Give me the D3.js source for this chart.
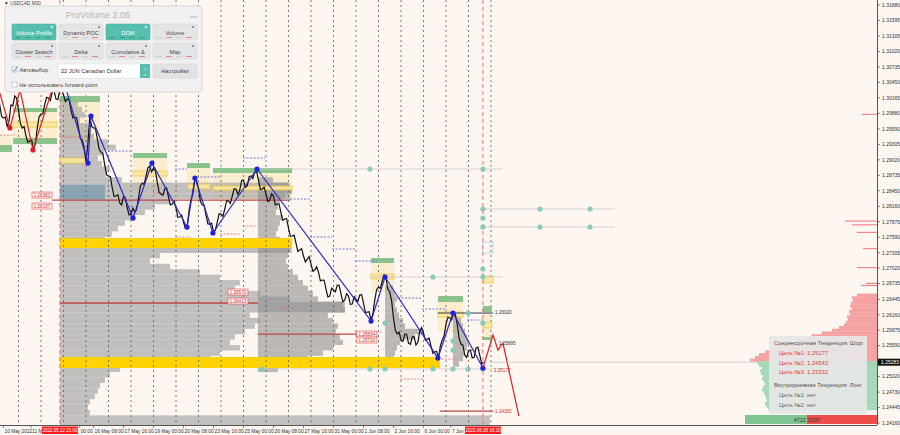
<!DOCTYPE html>
<html><head><meta charset="utf-8">
<script src="https://cdn.jsdelivr.net/npm/d3@7/dist/d3.min.js"></script>
<style>
html,body{margin:0;padding:0;background:#fdf6f1;}
svg{display:block;}
text{font-family:"Liberation Sans","DejaVu Sans",sans-serif;}
</style></head><body>
<svg id="chart" width="900" height="435"></svg>
<script>
// ---------------- DATA ----------------
// x unit = trading day index (0 = 10 May 2022 00:00, 4 = 16 May, 21 = 8 Jun)
const PRICE_TICKS = [1.31880,1.31595,1.31305,1.31020,1.30735,1.30450,1.30165,1.29880,1.29590,1.29305,1.29020,1.28735,1.28450,1.28160,1.27875,1.27590,1.27305,1.27020,1.26735,1.26445,1.26160,1.25875,1.25590,1.25020,1.24730,1.24445,1.24160];
const CURRENT_PRICE = 1.25283;
// labels partly hidden under the red crosshair boxes are kept as they show
const TIME_LABELS = ["10 May 2022","11 M","00:00","16 May 08:00","17 May 16:00","19 May 00:00","20 May 08:00","23 May 16:00","25 May 00:00","26 May 08:00","27 May 16:00","31 May 00:00","1 Jun 08:00","2 Jun 16:00","6 Jun 00:00","7 Jun"];
const TIME_LABEL_DAYS = [0.333,1.56,3.72,4.333,5.667,7.0,8.333,9.667,11.0,12.333,13.667,15.0,16.333,17.667,19.0,20.22];
const DAY_SEPARATORS = [1,2,3,4,5,6,7,8,9,10,11,12,13,14,15,16,17,18,19,20,21,22];
const MARKERS = [{day:2.84,text:"2022.05.12 21:00"},{day:21.64,text:"2022.06.08 16:30"}];

// closes every 4 hours from day 0, and the 2-hour closes in between
const BAR_STEP = 1/6;
const CLOSES = [1.30125,1.30033,1.29793,1.29626,1.30033,1.30199,1.29940,1.29608,1.29460,1.29368,
1.29220,1.29608,1.29866,1.30051,1.30162,1.30273,1.30143,1.30310,1.30217,1.30143,
1.29940,1.29811,1.29608,1.29386,1.28980,1.29811,1.29608,1.29423,1.29165,1.28924,
1.28721,1.28500,1.28352,1.28223,1.28352,1.28130,1.28019,1.28056,1.28315,1.28592,
1.28721,1.28906,1.28869,1.28610,1.28389,1.28481,1.28333,1.28204,1.28130,1.27964,
1.27872,1.27798,1.28278,1.28647,1.28500,1.28186,1.28001,1.27835,1.27687,1.27872,
1.28019,1.28112,1.28260,1.28352,1.28481,1.28463,1.28647,1.28537,1.28721,1.28795,
1.28647,1.28481,1.28389,1.28278,1.28352,1.28204,1.28038,1.27927,1.27761,1.27613,
1.27484,1.27354,1.27244,1.27188,1.27096,1.26985,1.26948,1.26800,1.26634,1.26505,
1.26616,1.26708,1.26542,1.26431,1.26505,1.26357,1.26449,1.26523,1.26376,1.26209,
1.26062,1.26431,1.26671,1.26782,1.26837,1.26579,1.26099,1.25803,1.25692,1.25803,
1.25637,1.25748,1.25600,1.25858,1.25822,1.25711,1.25581,1.25471,1.25360,1.25692,
1.25988,1.26099,1.26191,1.25988,1.25618,1.25415,1.25489,1.25360,1.25544,1.25415,
1.25283];
const MIDS = [1.30160,1.29820,1.29810,1.29750,1.30016,1.30160,1.29694,1.29634,1.29344,1.29384,
1.29314,1.29817,1.29868,1.30176,1.30117,1.30288,1.30136,1.30323,1.30100,1.30131,
1.29795,1.29799,1.29417,1.29253,1.29315,1.29639,1.29605,1.29214,1.29134,1.28742,
1.28710,1.28346,1.28377,1.28187,1.28321,1.28004,1.28127,1.28105,1.28533,1.28566,
1.28873,1.28797,1.28819,1.28420,1.28365,1.28497,1.28188,1.28257,1.27957,1.27998,
1.27755,1.28098,1.28392,1.28634,1.28253,1.28184,1.27838,1.27851,1.27720,1.28026,
1.27976,1.28266,1.28216,1.28487,1.28382,1.28635,1.28512,1.28709,1.28678,1.28801,
1.28474,1.28515,1.28253,1.28395,1.28188,1.28201,1.27903,1.27934,1.27607,1.27629,
1.27329,1.27379,1.27136,1.27232,1.26961,1.27047,1.26784,1.26797,1.26490,1.26651,
1.26582,1.26705,1.26397,1.26548,1.26351,1.26493,1.26406,1.26530,1.26203,1.26216,
1.26177,1.26621,1.26647,1.26890,1.26628,1.26419,1.25871,1.25838,1.25668,1.25800,
1.25613,1.25754,1.25649,1.25920,1.25687,1.25726,1.25446,1.25486,1.25586,1.25770,
1.26114,1.26065,1.26160,1.25723,1.25597,1.25372,1.25505,1.25372,1.25560,1.25259];

const BLUE_PIVOT_DAYS   = [2.89,4.09,4.22,6.09,6.93,8.49,8.84,9.64,11.60,16.67,17.29,19.64,20.31,21.64];
const BLUE_PIVOT_PRICES = [1.30642,1.28961,1.29830,1.27946,1.28961,1.27779,1.28684,1.27669,1.28851,1.26043,1.26856,1.25360,1.26191,1.25175];
const RED_PIVOT_DAYS    = [0.0,0.62,1.07,1.64,2.49];
const RED_PIVOT_PRICES  = [1.30494,1.29608,1.30310,1.29202,1.30310];
const FORECAST_DAYS   = [21.64,22.09,22.31,22.53,23.24];
const FORECAST_PRICES = [1.25175,1.25785,1.25507,1.25637,1.24288];

// volume profiles: start day, top price, bin size, volumes (top -> bottom)
const VP_BIN = 0.001;
const VP1_START = 2.84, VP1_TOP = 1.302;
const VP1 = [12,18,22,25,20,28,30,34,48,56,44,38,42,50,46,
 62,230,232,225,110,95,85,75,65,58,52,45,
 232,232,
 100,90,110,140,160,180,175,200,230,285,285,190,200,195,185,175,170,180,160,
 150,150,
 60,50,45,40,38,35,30,28,30,
 430,430];
const VP2_START = 11.64, VP2_TOP = 1.287;
const VP2 = [15,30,34,32,22,20,18,25,22,20,18,22,34,32,30,28,30,35,40,45,50,55,60,85,87,70,75,80,78,82,85,75,65,50,40,20];
const VP3_START = 17.29, VP3_TOP = 1.267;
const VP3 = [8,10,12,10,12,14,18,20,38,30,15,12,10,8];
const VP4_START = 20.31, VP4_TOP = 1.262;
const VP4 = [6,8,10,12,14,16,14,12,10,6];

// zones: [dayFrom, dayTo, priceTop, priceBottom]
const POC_BANDS = [[2.84,13.16,1.27576,1.27391],[2.84,19.73,1.25378,1.25175]];
const HIGHLIGHT_ZONES = [[2.84,4.84,1.28560,1.28290]];
const VALUE_AREAS = [[0.18,0.71,1.29478,1.29294],[0.76,2.71,1.29903,1.29423],[2.84,4.62,1.30088,1.29386],
 [6.09,7.60,1.29054,1.28463],[8.49,9.51,1.28869,1.28426],[9.64,13.16,1.28777,1.28278],
 [16.67,17.69,1.27115,1.26579],[19.64,20.76,1.26394,1.25840],[21.64,22.04,1.26209,1.25748]];
const GREEN_ZONES = [[0.18,0.71,1.29294,1.29165],[0.76,2.71,1.29423,1.29312],[0.76,2.71,1.29977,1.29903],
 [2.84,4.62,1.30199,1.30088],[6.09,7.60,1.29146,1.29054],[8.49,9.51,1.28961,1.28869],
 [9.64,13.16,1.28869,1.28777],[16.67,17.69,1.27207,1.27115],[19.64,20.76,1.26505,1.26394],
 [21.64,22.04,1.26320,1.26209],[21.64,22.04,1.25748,1.25692]];
const POC_OUTLINES = [[0.76,2.71,1.29719,1.29626],[2.84,3.96,1.29054,1.28961],[6.09,7.60,1.28814,1.28721],
 [8.53,9.51,1.28574,1.28481],[9.64,13.16,1.28537,1.28463],[16.67,17.69,1.26911,1.26819],
 [19.64,20.76,1.26209,1.26117],[21.64,22.04,1.26025,1.25914],[21.64,22.09,1.26874,1.26745]];
const BLUE_OUTLINES = [[21.64,22.09,1.27502,1.27299]];

// dotted levels: [dayFrom, dayTo, price]
const BLUE_LEVELS = [[4.98,5.96,1.29183],[7.96,8.49,1.28850],[8.93,9.96,1.28703],[10.98,11.96,1.29054],
 [13.07,13.96,1.28297],[13.96,14.93,1.27595],[14.93,15.96,1.27373],[15.96,16.93,1.27151],
 [17.87,18.93,1.26468],[18.93,20.04,1.26265],[20.93,21.64,1.26062]];
const RED_LEVELS = [[0.18,0.84,1.29478],[2.84,4.09,1.29441],[6.98,7.60,1.28407],[7.96,8.62,1.27595],
 [9.96,10.84,1.27650],[10.98,11.60,1.27798],[12.62,13.20,1.26283],[15.96,17.20,1.25840],
 [17.96,18.98,1.24972],[19.64,20.31,1.25341],[20.93,21.64,1.25507]];
const SOLID_LEVELS = [[2.49,13.07,1.28278],[2.84,11.64,1.26376],[11.64,16.90,1.25800],[19.73,22.09,1.24381]];
const DARK_LEVELS = [[19.64,22.09,1.26191]];
const LEVEL_BOXES = [[1.60,1.28370,"1.28363"],[1.60,1.28167,"1.28167"],[10.31,1.26579,"1.26570"],
 [10.31,1.26413,"1.26413"],[16.04,1.25803,"1.25834"],[16.04,1.25692,"1.25720"]];
const PLAIN_LABELS = [[22.18,1.26209,"1.26020","#333"],[22.35,1.25637,"1.25895","#333"],
 [22.13,1.25138,"1.25177","#e03030"],[22.18,1.24381,"1.24350","#e03030"]];

// teal dots and connector lines
const DOT_DAYS   = [16.62,21.64,21.64,24.18,26.40,21.64,21.64,24.18,26.40,21.64,21.64,19.42,17.29,21.64,20.31,20.31,20.98,16.62,17.29,19.42,20.31,20.98,21.64,11.82];
const DOT_PRICES = [1.28850,1.28850,1.28112,1.28112,1.28112,1.27946,1.27779,1.27779,1.27779,1.27004,1.26856,1.26856,1.26006,1.26006,1.25674,1.25507,1.26191,1.25157,1.25157,1.25157,1.25157,1.25157,1.25157,1.25157];
const CONNECTORS = [[11.6,22.5,1.28850],[21.64,27.5,1.28112],[21.64,27.5,1.27779],[16.6,22.5,1.26856],[11.6,22.5,1.25157]];

// DOM (right side) : ask bins above current price, bid bins below
const DOM_BIN = 0.0005;
const DOM_ASK_TOP = 1.2655;
const DOM_ASK = [200,250,240,260,270,250,280,270,300,290,310,330,380,450,550,650,720,800,880,950,1050,1120,1180,1220,1270];
const DOM_BID_TOP = 1.2530;
const DOM_BID = [1200,1180,1150,1170,1160,1140,1150,1130,1120,1140,1150,1130,1120,1110,1100,1120,1110,1090];
const DOM_FAR_PRICES = [1.2986,1.2789,1.2782,1.2768,1.2738,1.2703,1.2674,1.2670];
const DOM_FAR_VOL    = [150,320,250,200,140,200,110,160];
const DOM_TOTALS = [4712,5337];

const PANEL_BUTTONS = ["Volume Profile","Dynamic POC","DOM","Volume","Cluster Search","Delta","Cumulative Δ","Map"];
const PANEL_ACTIVE  = [true,false,true,false,false,false,false,false];
const INFO_LINES = [["Среднесрочная Тенденция: Шорт","#555",0],["Цель №1: 1.25177","#e03c3c",1],["Цель №2: 1.24543","#e03c3c",1],
 ["Цель №3: 1.23332","#e03c3c",1],["Внутридневная Тенденция: Лонг","#555",0],["Цель №1: нет","#666",1],["Цель №2: нет","#666",1]];

// ---------------- DRAW ----------------
const svg = d3.select("#chart");
const PR = 877, PB = 425;
const x = d3.scaleLinear().domain([0,40]).range([-4,896]);
const y = d3.scaleLinear().domain([1.24160,1.31880]).range([423,5]);
const vol = d3.scaleLinear().domain([0,100]).range([0,100]);
const domW = d3.scaleLinear().domain([0,1000]).range([0,100]);

svg.append("rect").attr("width",900).attr("height",435).attr("fill","#fdf6f1");
const defs = svg.append("defs");
defs.append("clipPath").attr("id","plot").append("rect").attr("x",0).attr("y",0).attr("width",PR).attr("height",PB);
defs.append("clipPath").attr("id","ibox").append("rect").attr("x",769).attr("y",336).attr("width",94).attr("height",78);
const g = svg.append("g").attr("clip-path","url(#plot)");

function zones(data, fill, stroke, op){
  g.append("g").selectAll("rect").data(data).join("rect")
   .attr("x",d=>x(d[0])).attr("width",d=>x(d[1])-x(d[0]))
   .attr("y",d=>y(d[2])).attr("height",d=>y(d[3])-y(d[2]))
   .attr("fill",fill).attr("stroke",stroke||"none").attr("stroke-width",0.8).attr("opacity",op||1);
}
function profile(start, top, vals, fill, op){
  g.append("g").selectAll("rect").data(vals).join("rect")
   .attr("x",x(start)).attr("width",d=>vol(d))
   .attr("y",(d,i)=>y(top - i*VP_BIN)).attr("height",(d,i)=>y(top-(i+1)*VP_BIN)-y(top-i*VP_BIN))
   .attr("fill",fill).attr("opacity",op);
}

zones(VALUE_AREAS,"#fbeccb",null,0.9);
profile(VP1_START,VP1_TOP,VP1,"#a2a2a2",0.65);
profile(VP2_START,VP2_TOP,VP2,"#8e8e8e",0.6);
profile(VP3_START,VP3_TOP,VP3,"#8e8e8e",0.6);
profile(VP4_START,VP4_TOP,VP4,"#8e8e8e",0.6);
zones(HIGHLIGHT_ZONES,"#7f9db2",null,0.85);
zones(POC_BANDS,"#ffd200",null,1);

// day separators
g.append("g").selectAll("line").data(DAY_SEPARATORS).join("line")
 .attr("x1",d=>x(d)).attr("x2",d=>x(d)).attr("y1",0).attr("y2",PB)
 .attr("stroke","#5e5e5e").attr("stroke-width",0.8).attr("stroke-dasharray","2,3");

zones(GREEN_ZONES,"#86bf86",null,0.95);
zones(POC_OUTLINES,"#fbe7a4","#f2c830",0.9);
zones(BLUE_OUTLINES,"none","#9fd0e6",1);

function levels(data, color, dash, w){
  g.append("g").selectAll("line").data(data).join("line")
   .attr("x1",d=>x(d[0])).attr("x2",d=>x(d[1])).attr("y1",d=>y(d[2])).attr("y2",d=>y(d[2]))
   .attr("stroke",color).attr("stroke-width",w).attr("stroke-dasharray",dash);
}
levels(CONNECTORS,"#c9c9c9",null,0.8);
levels(BLUE_LEVELS,"#5050d8","2,1.5",0.8);
levels(RED_LEVELS,"#e06a6a","2,1.5",0.8);
levels(SOLID_LEVELS,"#b84848",null,1.3);
levels(DARK_LEVELS,"#333a5a",null,1);

// red time marker lines
g.append("g").selectAll("line").data(MARKERS).join("line")
 .attr("x1",d=>x(d.day)).attr("x2",d=>x(d.day)).attr("y1",0).attr("y2",PB)
 .attr("stroke","#e86a6a").attr("stroke-width",0.9).attr("stroke-dasharray","4,3");

// teal dots
g.append("g").selectAll("circle").data(DOT_DAYS).join("circle")
 .attr("cx",d=>x(d)).attr("cy",(d,i)=>y(DOT_PRICES[i])).attr("r",2.6)
 .attr("fill","#86c7b6").attr("opacity",0.95);

// price line (4h closes interleaved with the 2h closes)
const series = [];
CLOSES.forEach((c,i)=>{
  series.push([i*BAR_STEP,c]);
  if(i<MIDS.length) series.push([(i+0.5)*BAR_STEP,MIDS[i]]);
});
const priceLine = d3.line().x(d=>x(d[0])).y(d=>y(d[1]));
g.append("path").datum(series).attr("d",priceLine).attr("fill","none").attr("stroke","#111")
 .attr("stroke-width",1.2).attr("stroke-linejoin","miter");

// zigzags
const pivLine = d3.line().x(d=>x(d[0])).y(d=>y(d[1]));
const bluePts = BLUE_PIVOT_DAYS.map((d,i)=>[d,BLUE_PIVOT_PRICES[i]]);
const redPts = RED_PIVOT_DAYS.map((d,i)=>[d,RED_PIVOT_PRICES[i]]);
const fcPts = FORECAST_DAYS.map((d,i)=>[d,FORECAST_PRICES[i]]);
g.append("path").datum(bluePts).attr("d",pivLine).attr("fill","none").attr("stroke","#2a2ad0").attr("stroke-width",1.2);
g.append("g").selectAll("circle").data(bluePts.slice(1)).join("circle")
 .attr("cx",d=>x(d[0])).attr("cy",d=>y(d[1])).attr("r",2.6).attr("fill","#2020e0");
g.append("path").datum(redPts).attr("d",pivLine).attr("fill","none").attr("stroke","#e02020").attr("stroke-width",1.2);
g.append("g").selectAll("circle").data([redPts[1],redPts[3]]).join("circle")
 .attr("cx",d=>x(d[0])).attr("cy",d=>y(d[1])).attr("r",2.6).attr("fill","#e02020");
g.append("path").datum(fcPts).attr("d",pivLine).attr("fill","none").attr("stroke","#e02020").attr("stroke-width",1.2);

// current price line
g.append("line").attr("x1",x(21.9)).attr("x2",PR).attr("y1",y(CURRENT_PRICE)).attr("y2",y(CURRENT_PRICE))
 .attr("stroke","#bdbdbd").attr("stroke-width",0.7);

// DOM histogram
g.append("g").selectAll("rect").data(DOM_ASK).join("rect")
 .attr("x",d=>PR-domW(d)).attr("width",d=>domW(d))
 .attr("y",(d,i)=>y(DOM_ASK_TOP-i*DOM_BIN)).attr("height",(d,i)=>y(DOM_ASK_TOP-(i+1)*DOM_BIN)-y(DOM_ASK_TOP-i*DOM_BIN)+0.3)
 .attr("fill","#f4a2a2");
g.append("g").selectAll("rect").data(DOM_BID).join("rect")
 .attr("x",d=>PR-domW(d)).attr("width",d=>domW(d))
 .attr("y",(d,i)=>y(DOM_BID_TOP-i*DOM_BIN)).attr("height",(d,i)=>y(DOM_BID_TOP-(i+1)*DOM_BIN)-y(DOM_BID_TOP-i*DOM_BIN)+0.3)
 .attr("fill","#a3d8b8");
g.append("g").selectAll("rect").data(DOM_FAR_PRICES).join("rect")
 .attr("x",(d,i)=>PR-domW(DOM_FAR_VOL[i])).attr("width",(d,i)=>domW(DOM_FAR_VOL[i]))
 .attr("y",d=>y(d)-0.6).attr("height",1.2).attr("fill","#f08a8a");

// info box
const ib = svg.append("g");
ib.append("rect").attr("x",769).attr("y",336).attr("width",98).attr("height",78).attr("fill","#e6e6e6").attr("opacity",0.93);
ib.append("g").attr("clip-path","url(#ibox)").selectAll("text").data(INFO_LINES).join("text")
 .attr("x",d=>d[2]?779:774).attr("y",(d,i)=>345+i*9.8+(i>=4?3:0))
 .attr("font-size",5.8).attr("fill",d=>d[1]).text(d=>d[0]);
// totals bar
const tot = d3.sum(DOM_TOTALS);
const tb = d3.scaleLinear().domain([0,tot]).range([745,PR]);
svg.append("rect").attr("x",tb(0)).attr("y",415).attr("width",tb(DOM_TOTALS[0])-tb(0)).attr("height",9).attr("fill","#7fc592");
svg.append("rect").attr("x",tb(DOM_TOTALS[0])).attr("y",415).attr("width",tb(tot)-tb(DOM_TOTALS[0])).attr("height",9).attr("fill","#ee4b4b");
svg.append("text").attr("x",tb(DOM_TOTALS[0])-1).attr("y",421.5).attr("text-anchor","end").attr("font-size",5.5).attr("fill","#333").text(DOM_TOTALS[0]);
svg.append("text").attr("x",tb(DOM_TOTALS[0])+1).attr("y",421.5).attr("font-size",5.5).attr("fill","#333").text(DOM_TOTALS[1]);

// level boxes
const lb = svg.append("g");
LEVEL_BOXES.forEach(d=>{
  const xx=x(d[0]), yy=y(d[1]);
  lb.append("rect").attr("x",xx).attr("y",yy-3).attr("width",20).attr("height",6).attr("fill","#fff3f3").attr("stroke","#e04848").attr("stroke-width",0.6);
  lb.append("text").attr("x",xx+10).attr("y",yy+1.8).attr("text-anchor","middle").attr("font-size",4.6).attr("fill","#d83030").text(d[2]);
});
PLAIN_LABELS.forEach(d=>{
  lb.append("text").attr("x",x(d[0])).attr("y",y(d[1])+1.8).attr("font-size",4.6).attr("fill",d[3]).text(d[2]);
});

// axes
svg.append("line").attr("x1",PR+0.5).attr("x2",PR+0.5).attr("y1",0).attr("y2",PB).attr("stroke","#555").attr("stroke-width",1);
svg.append("line").attr("x1",0).attr("x2",PR).attr("y1",PB+0.5).attr("y2",PB+0.5).attr("stroke","#555").attr("stroke-width",1);
const yAxis = svg.append("g");
PRICE_TICKS.forEach(p=>{
  yAxis.append("line").attr("x1",PR).attr("x2",PR+3).attr("y1",y(p)).attr("y2",y(p)).attr("stroke","#555").attr("stroke-width",0.7);
  yAxis.append("text").attr("x",PR+5).attr("y",y(p)+1.8).attr("font-size",5).attr("fill","#333").text(p.toFixed(5));
});
yAxis.append("rect").attr("x",PR+1).attr("y",y(CURRENT_PRICE)-3.5).attr("width",22).attr("height",7).attr("fill","#111");
yAxis.append("text").attr("x",PR+4).attr("y",y(CURRENT_PRICE)+1.8).attr("font-size",5).attr("fill","#fff").text(CURRENT_PRICE.toFixed(5));

const xAxis = svg.append("g");
TIME_LABELS.forEach((t,i)=>{
  const xx = x(TIME_LABEL_DAYS[i]);
  xAxis.append("line").attr("x1",xx).attr("x2",xx).attr("y1",PB).attr("y2",PB+3).attr("stroke","#555").attr("stroke-width",0.7);
  xAxis.append("text").attr("x",xx+1).attr("y",PB+7.5).attr("font-size",4.8).attr("fill","#333").text(t);
});
MARKERS.forEach(m=>{
  const xx = x(m.day);
  xAxis.append("rect").attr("x",xx-18).attr("y",PB+1.5).attr("width",36).attr("height",7.5).attr("fill","#ff1a1a");
  xAxis.append("text").attr("x",xx).attr("y",PB+7.3).attr("text-anchor","middle").attr("font-size",4.5).attr("fill","#fff").text(m.text);
});

// symbol tag
svg.append("rect").attr("x",2).attr("y",0).attr("width",40).attr("height",6).attr("fill","#fff");
svg.append("text").attr("x",4).attr("y",5).attr("font-size",4.8).attr("fill","#333").text("▼ USDCAD,M30");

// ProVolume panel
const pn = svg.append("g");
pn.append("rect").attr("x",5).attr("y",6).attr("width",197).attr("height",86).attr("rx",3)
  .attr("fill","#f1f1f1").attr("stroke","#d2d2d2").attr("stroke-width",0.8);
pn.append("text").attr("x",98).attr("y",17.5).attr("text-anchor","middle").attr("font-size",9).attr("fill","#b3b3b3").text("ProVolume 2.05");
pn.append("line").attr("x1",190).attr("x2",197).attr("y1",17).attr("y2",17).attr("stroke","#aaa").attr("stroke-width",1);
PANEL_BUTTONS.forEach((b,i)=>{
  const col=i%4, row=Math.floor(i/4);
  const bx=12+col*47, by=24+row*19, on=PANEL_ACTIVE[i];
  pn.append("rect").attr("x",bx).attr("y",by).attr("width",44).attr("height",16).attr("rx",1.5)
    .attr("fill",on?"#56bfae":"#e5e5e5").attr("stroke",on?"#4aa999":"#d0d0d0").attr("stroke-width",0.5);
  pn.append("text").attr("x",bx+22).attr("y",by+10.5).attr("text-anchor","middle").attr("font-size",5.6)
    .attr("fill",on?"#fff":"#444").text(b);
  pn.append("text").attr("x",bx+2).attr("y",by+4).attr("font-size",3).attr("fill",on?"#dff":"#888").text("ⁱ ⁱ");
  pn.append("circle").attr("cx",bx+40).attr("cy",by+3).attr("r",1).attr("fill",on?"#e8fffb":"#777");
  for(let k=0;k<4;k++){
    pn.append("line").attr("x1",bx+3+k*10).attr("x2",bx+9+k*10).attr("y1",by+13.5).attr("y2",by+13.5)
      .attr("stroke",on?"#2f8c7e":(k%2?"#e07070":"#c8c8c8")).attr("stroke-width",0.8);
  }
});
pn.append("rect").attr("x",12).attr("y",67).attr("width",5).attr("height",5).attr("fill","#fff").attr("stroke","#9a9a9a").attr("stroke-width",0.5);
pn.append("path").attr("d","M12.8,69.5 L14.3,71.3 L17.6,66.2").attr("fill","none").attr("stroke","#39a898").attr("stroke-width",0.9);
pn.append("text").attr("x",19.5).attr("y",72).attr("font-size",5.6).attr("fill","#444").text("Автовыбор");
pn.append("rect").attr("x",58).attr("y",64).attr("width",82).attr("height",14).attr("fill","#fff").attr("stroke","#dcdcdc").attr("stroke-width",0.5);
pn.append("text").attr("x",61).attr("y",73).attr("font-size",5.6).attr("fill","#333").text("22 JUN Canadian Dollar");
pn.append("rect").attr("x",140).attr("y",64).attr("width",10).attr("height",14).attr("fill","#56bfae");
pn.append("text").attr("x",145).attr("y",70).attr("text-anchor","middle").attr("font-size",3.5).attr("fill","#fff").text("˄");
pn.append("text").attr("x",145).attr("y",76).attr("text-anchor","middle").attr("font-size",3.5).attr("fill","#fff").text("˅");
pn.append("rect").attr("x",153).attr("y",64).attr("width",44).attr("height",14).attr("rx",1.5).attr("fill","#e3e3e3").attr("stroke","#cfcfcf").attr("stroke-width",0.5);
pn.append("text").attr("x",175).attr("y",73).attr("text-anchor","middle").attr("font-size",5.6).attr("fill","#444").text("Настройки");
pn.append("rect").attr("x",12).attr("y",82).attr("width",5).attr("height",5).attr("fill","#fff").attr("stroke","#9a9a9a").attr("stroke-width",0.5);
pn.append("text").attr("x",19.5).attr("y",87).attr("font-size",5.6).attr("fill","#444").text("Не использовать forward-point");
</script>
</body></html>
